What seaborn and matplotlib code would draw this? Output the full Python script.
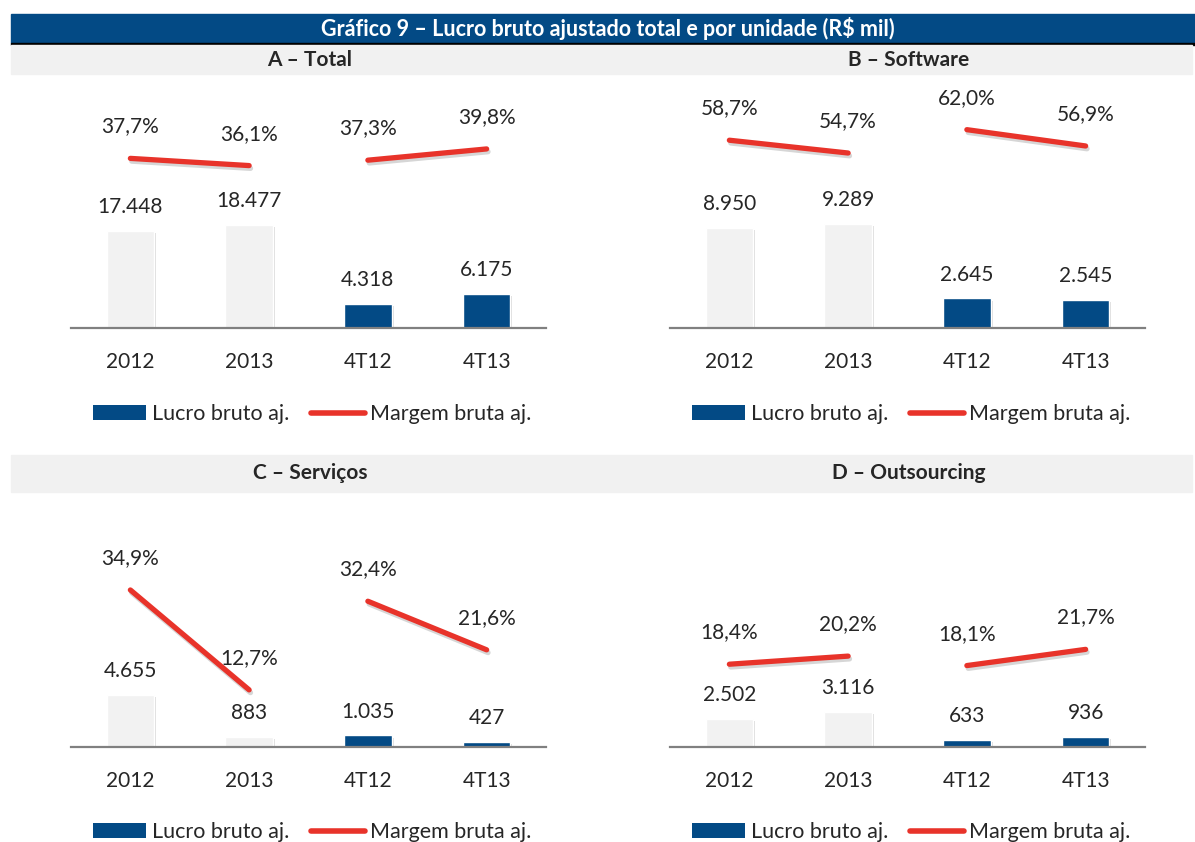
import numpy as np
import pandas as pd
import matplotlib
matplotlib.use('Agg')
import matplotlib.pyplot as plt
import matplotlib.patheffects as pe
from matplotlib.patches import Rectangle, Patch
from matplotlib.lines import Line2D
import seaborn as sns

# Data
periodos = ['2012', '2013', '4T12', '4T13']
paineis = ['A – Total', 'B – Software', 'C – Serviços', 'D – Outsourcing']
lucro_total = [17448, 18477, 4318, 6175]
lucro_software = [8950, 9289, 2645, 2545]
lucro_servicos = [4655, 883, 1035, 427]
lucro_outsourcing = [2502, 3116, 633, 936]
margem_total = [37.7, 36.1, 37.3, 39.8]
margem_software = [58.7, 54.7, 62.0, 56.9]
margem_servicos = [34.9, 12.7, 32.4, 21.6]
margem_outsourcing = [18.4, 20.2, 18.1, 21.7]
grupos = ['ano', 'ano', 'tri', 'tri']

lucros = [lucro_total, lucro_software, lucro_servicos, lucro_outsourcing]
margens = [margem_total, margem_software, margem_servicos, margem_outsourcing]

# axis limits chosen so the bars / lines sit at the same height as the reference
bar_top = [42800, 21330, 21300, 21300]
pct_top = [52.9, 74.4, 52.9, 52.9]

AZUL = '#034a85'
CINZA_BARRA = '#f2f2f2'
VERMELHO = '#e8332a'
CINZA_FAIXA = '#f1f1f1'

W, H = 1195, 842

sns.set_theme(style='white')
plt.rcParams['font.family'] = ['Lato', 'DejaVu Sans']

fig = plt.figure(figsize=(W / 100, H / 100), dpi=100)


def fx(x):
    return x / W


def fy(y):
    return 1 - y / H


def fmt_mil(v):
    return f"{int(round(v)):,}".replace(',', '.')


def fmt_pct(v):
    return f"{v:.1f}%".replace('.', ',')


# title bar
fig.patches.append(Rectangle((fx(11), fy(43)), fx(1195) - fx(11), fy(14) - fy(43),
                             transform=fig.transFigure, color=AZUL, zorder=0))
fig.patches.append(Rectangle((fx(11), fy(45)), fx(1195) - fx(11), fy(43) - fy(45),
                             transform=fig.transFigure, color='black', zorder=0))
fig.text(fx(608), fy(29), 'Gráfico 9 – Lucro bruto ajustado total e por unidade (R$ mil)',
         color='white', fontsize=15.5, fontweight='bold', ha='center', va='center')

# subtitle bars
for top, bot in [(45, 74), (455, 492)]:
    fig.patches.append(Rectangle((fx(11), fy(bot)), fx(1192) - fx(11), fy(top) - fy(bot),
                                 transform=fig.transFigure, color=CINZA_FAIXA, zorder=0))

layout = [(71, 328, 310, 60, 414), (670, 328, 909, 60, 414),
          (71, 747, 310, 473, 832), (670, 747, 909, 473, 832)]

handles = [Patch(facecolor=AZUL, edgecolor='none'),
           Line2D([0], [0], color=VERMELHO, lw=4, solid_capstyle='round')]
rotulos = ['Lucro bruto aj.', 'Margem bruta aj.']

for i, (x0, base, tx, ty, ly) in enumerate(layout):
    df = pd.DataFrame({'periodo': periodos, 'lucro': lucros[i], 'margem': margens[i],
                       'grupo': grupos, 'pos': np.arange(len(periodos))})

    ax = fig.add_axes([fx(x0), fy(base), fx(475), 238 / H])
    sns.barplot(data=df, x='periodo', y='lucro', hue='periodo',
                palette=[CINZA_BARRA, CINZA_BARRA, AZUL, AZUL],
                width=0.40, legend=False, ax=ax, saturation=1)
    for p in ax.patches:
        p.set_path_effects([pe.SimplePatchShadow(offset=(1.5, -1.5), shadow_rgbFace='#bbbbbb', alpha=0.5),
                            pe.Normal()])
    for c in ax.containers:
        ax.bar_label(c, labels=[fmt_mil(v) for v in c.datavalues], padding=10, fontsize=15)
    ax.set_ylim(0, bar_top[i])
    ax.set_xlim(-0.5, 3.5)
    ax.set_xlabel('')
    ax.set_ylabel('')
    ax.set_yticks([])
    ax.tick_params(axis='x', length=0, pad=17, labelsize=15)
    for s in ['top', 'left', 'right']:
        ax.spines[s].set_visible(False)
    ax.spines['bottom'].set_color('#808080')
    ax.spines['bottom'].set_linewidth(1.6)
    ax.patch.set_alpha(0)

    ax2 = ax.twinx()
    sns.lineplot(data=df, x='pos', y='margem', units='grupo', estimator=None,
                 color=VERMELHO, lw=3.8, ax=ax2, legend=False)
    for ln in ax2.lines:
        ln.set_solid_capstyle('round')
        ln.set_path_effects([pe.SimpleLineShadow(offset=(1, -2), shadow_color='#999999', alpha=0.4),
                             pe.Normal()])
    for xp, m in zip(df['pos'], df['margem']):
        ax2.annotate(fmt_pct(m), (xp, m), xytext=(0, 23), textcoords='offset points',
                     ha='center', va='center', fontsize=15)
    ax2.set_ylim(0, pct_top[i])
    ax2.set_xlim(-0.5, 3.5)
    ax2.set_yticks([])
    ax2.set_ylabel('')
    ax2.set_xlabel('')
    for s in ax2.spines.values():
        s.set_visible(False)

    fig.text(fx(tx), fy(ty), paineis[i], fontsize=15, fontweight='bold',
             ha='center', va='center')
    fig.legend(handles, rotulos, loc='center', bbox_to_anchor=(fx(tx + 2), fy(ly)),
               ncol=2, frameon=False, fontsize=15.5, handlelength=2.5, handleheight=0.65,
               handletextpad=0.25, columnspacing=1.0)

fig.savefig('out.png', dpi=100)
